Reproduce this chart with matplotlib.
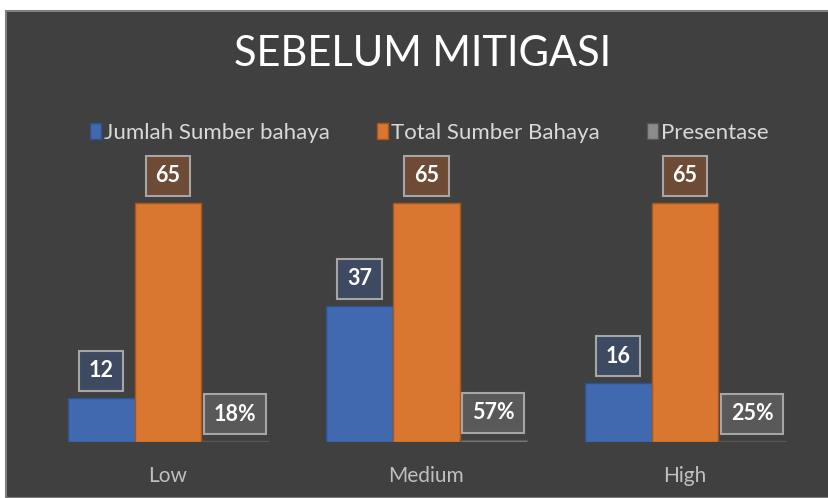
import matplotlib
matplotlib.use("Agg")
import matplotlib.pyplot as plt
from matplotlib.patches import Rectangle
import numpy as np

# data
categories = ["Low", "Medium", "High"]
jumlah = [12, 37, 16]
total = [65, 65, 65]
presentase = [0.18, 0.57, 0.25]
series_names = ["Jumlah Sumber bahaya", "Total Sumber Bahaya", "Presentase"]

W, H = 829, 498
BG = "#404040"
BLUE = "#4169B0"
ORANGE = "#D97630"
GREY = "#8C8C8C"

plt.rcParams['font.family'] = ['Lato', 'DejaVu Sans']

fig = plt.figure(figsize=(W / 100, H / 100), dpi=100, facecolor="white")

# dark chart area with thin border (white strip top / left)
fig.patches.append(Rectangle((6 / W, 0), 1, 1 - 11 / H, transform=fig.transFigure,
                             facecolor=BG, edgecolor="#7F7F7F", linewidth=1.5, zorder=-10))

# axes: baseline at y=442px, 3.677 px per unit
ax = fig.add_axes([38.75 / W, (H - 442) / H, 775.5 / W, 257.4 / H])
ax.set_facecolor("none")
ax.set_xlim(-0.5, 2.5)
ax.set_ylim(0, 70)
for s in ax.spines.values():
    s.set_visible(False)
ax.set_yticks([])
ax.set_xticks(range(len(categories)))
ax.set_xticklabels(categories, color="#BFBFBF", fontsize=15)
ax.tick_params(axis="x", length=0, pad=17)

x = np.arange(len(categories))
w = 0.259
b1 = ax.bar(x - w, jumlah, w, color=BLUE, edgecolor="#2F528F", linewidth=1, label=series_names[0])
b2 = ax.bar(x, total, w, color=ORANGE, edgecolor="#A9561E", linewidth=1, label=series_names[1])
b3 = ax.bar(x + w, presentase, w, color=GREY, edgecolor="#595959", linewidth=1, label=series_names[2])

def add_labels(bars, texts, box_color):
    for rect, t in zip(bars, texts):
        ax.annotate(t, (rect.get_x() + rect.get_width() / 2, rect.get_height()),
                    xytext=(0, 19.5), textcoords="offset points",
                    ha="center", va="center", color="white", fontsize=15.5, fontweight="bold",
                    bbox=dict(boxstyle="square,pad=0.45", facecolor=box_color,
                              edgecolor="#A6A6A6", linewidth=1.5))

add_labels(b1, [str(v) for v in jumlah], "#3E4A61")
add_labels(b2, [str(v) for v in total], "#6E4B36")
add_labels(b3, [f"{round(v * 100)}%" for v in presentase], "#595959")

fig.text(0.51, 1 - 54 / H, "SEBELUM MITIGASI", ha="center", va="center",
         color="white", fontsize=30)

leg = fig.legend(handles=[b1, b2, b3], loc="center", bbox_to_anchor=(0.518, 1 - 133 / H),
                 ncol=3, frameon=False, fontsize=16, handlelength=0.5, handleheight=0.75,
                 handletextpad=0.15, columnspacing=2.1, labelcolor="#D9D9D9")

fig.savefig("out.png", dpi=100, facecolor="white")
